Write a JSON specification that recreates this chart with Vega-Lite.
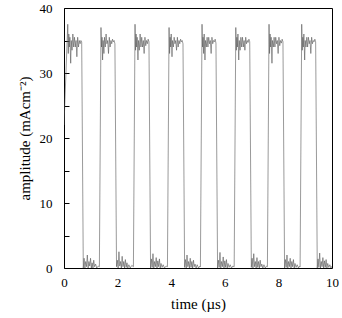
{
  "$schema": "https://vega.github.io/schema/vega-lite/v6.json",
  "width": 268,
  "height": 260,
  "autosize": "none",
  "padding": {"left": 64, "top": 8, "right": 10, "bottom": 50},
  "background": "white",
  "config": {
    "view": {"stroke": "#000", "strokeWidth": 1},
    "axis": {"labelFont": "Liberation Serif", "titleFont": "Liberation Serif", "labelFontSize": 13, "titleFontSize": 15, "titleFontWeight": "normal", "labelColor": "#000", "titleColor": "#000", "grid": false, "domain": false, "tickColor": "#000"}
  },
  "data": {"values": [
    {"t":0,"a":22},{"t":0.14,"a":37.5},{"t":0.16,"a":33},{"t":0.18,"a":36},{"t":0.20,"a":34},{"t":0.22,"a":35.5},{"t":0.25,"a":31.5},{"t":0.27,"a":35},{"t":0.30,"a":33.5},{"t":0.33,"a":36},{"t":0.36,"a":34},{"t":0.39,"a":35.5},{"t":0.42,"a":34},{"t":0.45,"a":35},{"t":0.48,"a":32.5},{"t":0.51,"a":35.5},{"t":0.54,"a":34},{"t":0.57,"a":35},{"t":0.60,"a":34.5},{"t":0.63,"a":35},{"t":0.66,"a":34.8},
    {"t":0.72,"a":0},{"t":0.75,"a":1.5},{"t":0.78,"a":0},{"t":0.81,"a":1},{"t":0.84,"a":0.2},{"t":0.87,"a":2},{"t":0.90,"a":0},{"t":0.93,"a":1},{"t":0.96,"a":0.3},{"t":0.99,"a":1.5},{"t":1.02,"a":0},{"t":1.05,"a":0.8},{"t":1.08,"a":0},{"t":1.11,"a":1.2},{"t":1.14,"a":0.2},{"t":1.18,"a":0.6},{"t":1.22,"a":0},{"t":1.28,"a":0.3},{"t":1.32,"a":0.2},
    {"t":1.38,"a":37},{"t":1.40,"a":34},{"t":1.42,"a":35.5},{"t":1.44,"a":32},{"t":1.46,"a":35},{"t":1.49,"a":33},{"t":1.51,"a":35.5},{"t":1.54,"a":34},{"t":1.57,"a":36},{"t":1.60,"a":34.5},{"t":1.63,"a":35},{"t":1.66,"a":33},{"t":1.69,"a":35.5},{"t":1.72,"a":34},{"t":1.75,"a":35},{"t":1.78,"a":34.5},{"t":1.81,"a":35.2},{"t":1.84,"a":34.8},{"t":1.87,"a":35},{"t":1.90,"a":34.5},
    {"t":1.96,"a":0.2},{"t":1.99,"a":1.2},{"t":2.02,"a":0},{"t":2.05,"a":2.5},{"t":2.08,"a":0.3},{"t":2.11,"a":1},{"t":2.14,"a":0},{"t":2.17,"a":1.8},{"t":2.20,"a":0.2},{"t":2.23,"a":1},{"t":2.26,"a":0},{"t":2.29,"a":1.3},{"t":2.32,"a":0.1},{"t":2.35,"a":0.8},{"t":2.38,"a":0},{"t":2.42,"a":0.5},{"t":2.47,"a":0},{"t":2.53,"a":0.4},{"t":2.59,"a":0.2},
    {"t":2.65,"a":37.5},{"t":2.67,"a":33.5},{"t":2.69,"a":36},{"t":2.71,"a":34},{"t":2.73,"a":35.5},{"t":2.76,"a":32},{"t":2.78,"a":35},{"t":2.81,"a":33.5},{"t":2.84,"a":36},{"t":2.87,"a":34},{"t":2.90,"a":35.5},{"t":2.93,"a":34},{"t":2.96,"a":35},{"t":2.99,"a":33},{"t":3.02,"a":35.5},{"t":3.05,"a":34.2},{"t":3.08,"a":35},{"t":3.11,"a":34.5},{"t":3.14,"a":35.2},{"t":3.17,"a":34.8},
    {"t":3.23,"a":0},{"t":3.26,"a":1.4},{"t":3.29,"a":0.1},{"t":3.32,"a":2.2},{"t":3.35,"a":0},{"t":3.38,"a":1},{"t":3.41,"a":0.2},{"t":3.44,"a":1.6},{"t":3.47,"a":0},{"t":3.50,"a":1.1},{"t":3.53,"a":0.2},{"t":3.56,"a":1.4},{"t":3.59,"a":0},{"t":3.62,"a":0.7},{"t":3.66,"a":0.1},{"t":3.70,"a":0.5},{"t":3.75,"a":0},{"t":3.81,"a":0.3},{"t":3.86,"a":0.2},
    {"t":3.92,"a":37},{"t":3.94,"a":33},{"t":3.96,"a":35.5},{"t":3.98,"a":34},{"t":4.00,"a":36},{"t":4.03,"a":32.5},{"t":4.05,"a":35},{"t":4.08,"a":34},{"t":4.11,"a":35.5},{"t":4.14,"a":34.5},{"t":4.17,"a":35},{"t":4.20,"a":33.5},{"t":4.23,"a":35.5},{"t":4.26,"a":34},{"t":4.29,"a":35},{"t":4.32,"a":34.5},{"t":4.35,"a":35.2},{"t":4.38,"a":34.8},{"t":4.41,"a":35},{"t":4.44,"a":34.5},
    {"t":4.50,"a":0.1},{"t":4.53,"a":1.3},{"t":4.56,"a":0},{"t":4.59,"a":2},{"t":4.62,"a":0.2},{"t":4.65,"a":1},{"t":4.68,"a":0},{"t":4.71,"a":1.5},{"t":4.74,"a":0.1},{"t":4.77,"a":1},{"t":4.80,"a":0},{"t":4.83,"a":1.2},{"t":4.86,"a":0.2},{"t":4.89,"a":0.6},{"t":4.93,"a":0},{"t":4.97,"a":0.5},{"t":5.02,"a":0},{"t":5.07,"a":0.3},{"t":5.09,"a":0.2},
    {"t":5.15,"a":37.5},{"t":5.17,"a":34},{"t":5.19,"a":35.5},{"t":5.21,"a":33},{"t":5.23,"a":36},{"t":5.26,"a":32},{"t":5.28,"a":35},{"t":5.31,"a":34},{"t":5.34,"a":35.5},{"t":5.37,"a":34},{"t":5.40,"a":35.5},{"t":5.43,"a":34.5},{"t":5.46,"a":35},{"t":5.49,"a":33},{"t":5.52,"a":35.5},{"t":5.55,"a":34.5},{"t":5.58,"a":35},{"t":5.61,"a":34.8},{"t":5.64,"a":35.2},{"t":5.67,"a":34.6},
    {"t":5.73,"a":0},{"t":5.76,"a":1.2},{"t":5.79,"a":0.1},{"t":5.82,"a":2.4},{"t":5.85,"a":0},{"t":5.88,"a":1},{"t":5.91,"a":0.2},{"t":5.94,"a":1.7},{"t":5.97,"a":0},{"t":6.00,"a":1.1},{"t":6.03,"a":0.1},{"t":6.06,"a":1.3},{"t":6.09,"a":0},{"t":6.12,"a":0.7},{"t":6.16,"a":0.1},{"t":6.20,"a":0.5},{"t":6.25,"a":0},{"t":6.30,"a":0.3},{"t":6.35,"a":0.2},
    {"t":6.41,"a":37},{"t":6.43,"a":33.5},{"t":6.45,"a":35.5},{"t":6.47,"a":34},{"t":6.49,"a":36},{"t":6.52,"a":32},{"t":6.54,"a":35},{"t":6.57,"a":33.5},{"t":6.60,"a":35.5},{"t":6.63,"a":34},{"t":6.66,"a":35.5},{"t":6.69,"a":34},{"t":6.72,"a":35},{"t":6.75,"a":33.5},{"t":6.78,"a":35.5},{"t":6.81,"a":34.5},{"t":6.84,"a":35},{"t":6.87,"a":34.7},{"t":6.90,"a":35.2},{"t":6.93,"a":34.8},
    {"t":6.99,"a":0.1},{"t":7.02,"a":1.5},{"t":7.05,"a":0},{"t":7.08,"a":2.2},{"t":7.11,"a":0.2},{"t":7.14,"a":1},{"t":7.17,"a":0},{"t":7.20,"a":1.6},{"t":7.23,"a":0.1},{"t":7.26,"a":1},{"t":7.29,"a":0},{"t":7.32,"a":1.2},{"t":7.35,"a":0.2},{"t":7.38,"a":0.6},{"t":7.42,"a":0},{"t":7.46,"a":0.5},{"t":7.51,"a":0},{"t":7.56,"a":0.3},{"t":7.59,"a":0.2},
    {"t":7.65,"a":37.5},{"t":7.67,"a":33},{"t":7.69,"a":36},{"t":7.71,"a":34},{"t":7.73,"a":35.5},{"t":7.76,"a":31.5},{"t":7.78,"a":35},{"t":7.81,"a":34},{"t":7.84,"a":35.5},{"t":7.87,"a":34},{"t":7.90,"a":35.5},{"t":7.93,"a":34.5},{"t":7.96,"a":35},{"t":7.99,"a":33},{"t":8.02,"a":35.5},{"t":8.05,"a":34.2},{"t":8.08,"a":35},{"t":8.11,"a":34.6},{"t":8.14,"a":35.2},{"t":8.17,"a":34.8},
    {"t":8.23,"a":0},{"t":8.26,"a":1.3},{"t":8.29,"a":0.1},{"t":8.32,"a":2},{"t":8.35,"a":0},{"t":8.38,"a":1},{"t":8.41,"a":0.2},{"t":8.44,"a":1.5},{"t":8.47,"a":0},{"t":8.50,"a":1},{"t":8.53,"a":0.2},{"t":8.56,"a":1.3},{"t":8.59,"a":0},{"t":8.62,"a":0.7},{"t":8.66,"a":0.1},{"t":8.70,"a":0.5},{"t":8.75,"a":0},{"t":8.79,"a":0.3},{"t":8.81,"a":0.2},
    {"t":8.87,"a":37.5},{"t":8.89,"a":33.5},{"t":8.91,"a":35.5},{"t":8.93,"a":34},{"t":8.95,"a":36},{"t":8.98,"a":32},{"t":9.00,"a":35},{"t":9.03,"a":34},{"t":9.06,"a":35.5},{"t":9.09,"a":34},{"t":9.12,"a":35.5},{"t":9.15,"a":34.5},{"t":9.18,"a":35},{"t":9.21,"a":33},{"t":9.24,"a":35.5},{"t":9.27,"a":34.5},{"t":9.30,"a":35},{"t":9.33,"a":34.8},{"t":9.36,"a":35.2},{"t":9.39,"a":34.8},
    {"t":9.45,"a":0},{"t":9.48,"a":1.4},{"t":9.51,"a":0.1},{"t":9.54,"a":2.3},{"t":9.57,"a":0},{"t":9.60,"a":1},{"t":9.63,"a":0.2},{"t":9.66,"a":1.6},{"t":9.69,"a":0},{"t":9.72,"a":1.1},{"t":9.75,"a":0.1},{"t":9.78,"a":1.3},{"t":9.81,"a":0},{"t":9.84,"a":0.7},{"t":9.88,"a":0.1},{"t":9.92,"a":0.5},{"t":9.96,"a":0},{"t":10.0,"a":0.3}
  ]},
  "mark": {"type": "line", "color": "#555", "strokeWidth": 0.6, "clip": true},
  "encoding": {
    "x": {"field": "t", "type": "quantitative", "scale": {"domain": [0, 10], "nice": false},
      "axis": {"title": "time (µs)", "values": [0, 2, 4, 6, 8, 10], "ticks": false, "labelPadding": 8, "titlePadding": 7, "labelFlush": false}},
    "y": {"field": "a", "type": "quantitative", "scale": {"domain": [0, 40], "nice": false},
      "axis": {"title": "amplitude (mAcm⁻²)", "values": [0, 5, 10, 15, 20, 25, 30, 35, 40], "tickSize": -5, "labelPadding": 17, "labelExpr": "datum.value % 10 == 0 ? datum.label : ''", "titlePadding": 7, "labelFlush": false}}
  }
}
